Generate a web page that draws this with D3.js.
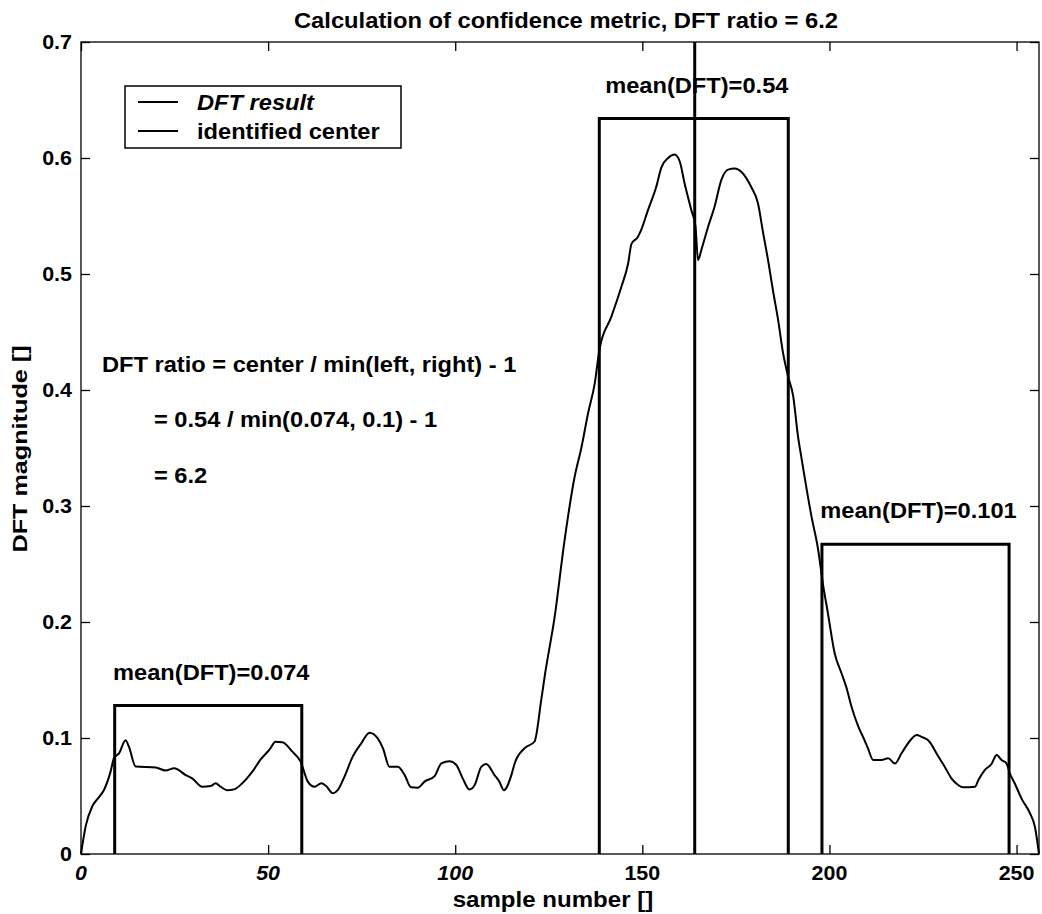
<!DOCTYPE html>
<html><head><meta charset="utf-8">
<script src="https://cdn.jsdelivr.net/npm/d3@7"></script>
<style>
html,body{margin:0;padding:0;background:#fff;}
svg text{font-family:"Liberation Sans",Arial,Helvetica,sans-serif;font-weight:bold;fill:#000;}
</style></head>
<body><svg id="chart" width="1042" height="914"></svg>
<script>
// ---- data ----
const sampleIdx = [0,1.25,3,4.8,6.1,7.9,8.8,10.2,11.9,12.8,14.6,20,22.6,24.9,28,29.8,32.4,34.7,36,37.3,39.1,40.9,43.1,45.8,48,50.3,52,53.8,56.5,58.7,
 60.6,62.4,64.2,65.5,67.3,68.6,70.4,72.6,74.9,77.1,79.3,80.7,82.4,84.7,86.5,88.2,90,91.8,94.5,96.3,98.5,100.3,102,103.8,105.2,107,108.3,110.5,111.8,113,115,115.9,118.5,121.2,
 123,124,126.6,129.2,131.9,133.7,135.5,137.3,138.6,141.7,144.4,146.2,147.1,148.8,149.7,151.5,153.7,155.1,156.9,158.6,160,161.3,163.1,164.2,164.9,165.8,167.6,169.3,171.1,172.9,174.7,176.5,179.1,180.9,182.3,183.6,184.9,186.3,187.6,189,190.3,191.6,192.5,195.2,197,198.3,199.6,201.4,203.2,204.5,205.9,207.7,209.4,210.3,211.7,213.9,215.7,217.5,219.3,221,223.3,224.6,226.4,229.1,230.8,232.6,234.4,235.7,238.9,239.8,241.5,243.3,244.7,246,247.3,248.2,249.5,251.3,253.6,254.9,256];
const dftMag = [0,0.024,0.041,0.049,0.055,0.071,0.0825,0.087,0.098,0.0925,0.0755,0.0745,0.072,0.074,0.068,0.065,0.058,0.0586,0.061,0.058,0.055,0.0557,0.061,0.071,0.0815,0.0897,0.0968,0.0963,0.0882,0.0796,
 0.0624,0.058,0.061,0.0586,0.0523,0.055,0.0667,0.0839,0.0954,0.1046,0.0997,0.0911,0.0753,0.0753,0.068,0.0575,0.0572,0.0624,0.0672,0.0782,0.080,0.0767,0.0652,0.0557,0.0595,0.0753,0.0776,0.068,0.0624,0.055,0.068,0.0782,0.0911,0.097,
 0.133,0.155,0.205,0.27,0.325,0.35,0.38,0.406,0.436,0.463,0.489,0.509,0.526,0.532,0.538,0.555,0.575,0.592,0.600,0.603,0.597,0.578,0.555,0.541,0.512,0.521,0.541,0.558,0.581,0.590,0.591,0.588,0.575,0.561,0.535,0.512,0.486,0.460,0.432,0.411,0.395,0.36,0.342,0.291,0.262,0.232,0.2075,0.173,0.156,0.144,0.127,0.11,0.098,0.091,0.081,0.081,0.0825,0.078,0.087,0.0954,0.1026,0.101,0.098,0.084,0.0753,0.0652,0.0595,0.0575,0.058,0.0638,0.0724,0.0776,0.0853,0.081,0.0782,0.0696,0.061,0.048,0.035,0.0235,0];
const boxLeft  = [9, 138.5, 198];
const boxRight = [59, 189, 248];
const boxTop   = [0.128, 0.634, 0.267];
const boxLabels = ["mean(DFT)=0.074", "mean(DFT)=0.54", "mean(DFT)=0.101"];
const centerSample = 164;
const xTicks = [0,50,100,150,200,250];
const yTicks = [0,0.1,0.2,0.3,0.4,0.5,0.6,0.7];
const legendLabels = ["DFT result", "identified center"];
const titleText = "Calculation of confidence metric, DFT ratio = 6.2";
const xLabel = "sample number []";
const yLabel = "DFT magnitude []";
const formulaLines = ["DFT ratio = center / min(left, right) - 1", "= 0.54 / min(0.074, 0.1) - 1", "= 6.2"];

// ---- layout ----
const svg = d3.select("#chart");
const L=81, R=1039, T=42, B=854;
const SX = 1.1;
const x = d3.scaleLinear().domain([0,256]).range([L,R]);
const y = d3.scaleLinear().domain([0,0.7]).range([B,T]);

function txt(px, py, s, size, anchor, opts={}) {
  const t = svg.append("text")
    .attr("transform", `translate(${px},${py})` + (opts.rotate?` rotate(${opts.rotate})`:"") + ` scale(${opts.sx||SX},1)`)
    .attr("text-anchor", anchor)
    .style("font-size", size+"px")
    .text(s);
  if (opts.italic) t.style("font-style","italic");
  return t;
}

// frame
svg.append("rect").attr("x",L).attr("y",T).attr("width",R-L).attr("height",B-T)
  .attr("fill","none").attr("stroke","#000").attr("stroke-width",1.3);

// axes with inward ticks
const tk = 9;
const gx = svg.append("g").attr("transform",`translate(0,${B})`)
  .call(d3.axisBottom(x).tickValues(xTicks).tickSize(-tk).tickPadding(0).tickFormat(""));
const gxt = svg.append("g").attr("transform",`translate(0,${T})`)
  .call(d3.axisTop(x).tickValues(xTicks).tickSize(-tk).tickFormat(""));
const gy = svg.append("g").attr("transform",`translate(${L},0)`)
  .call(d3.axisLeft(y).tickValues(yTicks).tickSize(-tk).tickFormat(""));
const gyr = svg.append("g").attr("transform",`translate(${R},0)`)
  .call(d3.axisRight(y).tickValues(yTicks).tickSize(-tk).tickFormat(""));
[gx,gxt,gy,gyr].forEach(g=>{ g.select(".domain").remove(); g.selectAll("line").attr("stroke","#000").attr("stroke-width",1.3); });

// tick labels
xTicks.forEach(v => txt(x(v), 880, String(v), 19.5, "middle", {italic: v<=100}));
yTicks.forEach(v => txt(L-9, y(v)+7, v===0?"0":d3.format(".1f")(v), 19.5, "end"));

// boxes
boxLeft.forEach((x1,i)=>{
  const x2 = boxRight[i], h = boxTop[i];
  svg.append("path")
    .attr("d", d3.line()([[x(x1),y(0)],[x(x1),y(h)],[x(x2),y(h)],[x(x2),y(0)]]))
    .attr("fill","none").attr("stroke","#000").attr("stroke-width",3).attr("stroke-linejoin","miter");
  txt((x(x1)+x(x2))/2 + 3, y(h)-26, boxLabels[i], 21.5, "middle");
});

// identified center line
svg.append("line").attr("x1",x(centerSample)).attr("x2",x(centerSample))
  .attr("y1",y(0)).attr("y2",y(0.7)).attr("stroke","#000").attr("stroke-width",3);

// DFT curve
const pts = sampleIdx.map((s,i)=>[s, dftMag[i]]);
svg.append("path").datum(pts)
  .attr("d", d3.line().x(d=>x(d[0])).y(d=>y(d[1])).curve(d3.curveMonotoneX))
  .attr("fill","none").attr("stroke","#000").attr("stroke-width",2).attr("stroke-linejoin","round");

// formula text
txt(x(5.6), y(0.4155), formulaLines[0], 21.5, "start");
txt(x(19.5), y(0.368), formulaLines[1], 21.5, "start");
txt(x(19.5), y(0.32), formulaLines[2], 21.5, "start");

// legend
svg.append("rect").attr("x",125).attr("y",86).attr("width",276).attr("height",62)
  .attr("fill","#fff").attr("stroke","#000").attr("stroke-width",1.5);
[102,131].forEach((ly,i)=>{
  svg.append("line").attr("x1",138).attr("x2",178).attr("y1",ly).attr("y2",ly)
    .attr("stroke","#000").attr("stroke-width",1.8);
  txt(197, ly+8, legendLabels[i], 21.5, "start", {italic: i===0});
});

// title & axis labels
txt(566, 28, titleText, 22, "middle", {sx:1.08});
txt(553, 907, xLabel, 21.5, "middle", {sx:1.12});
txt(27, 449, yLabel, 21, "middle", {rotate:-90, sx:1.2});
</script></body></html>
